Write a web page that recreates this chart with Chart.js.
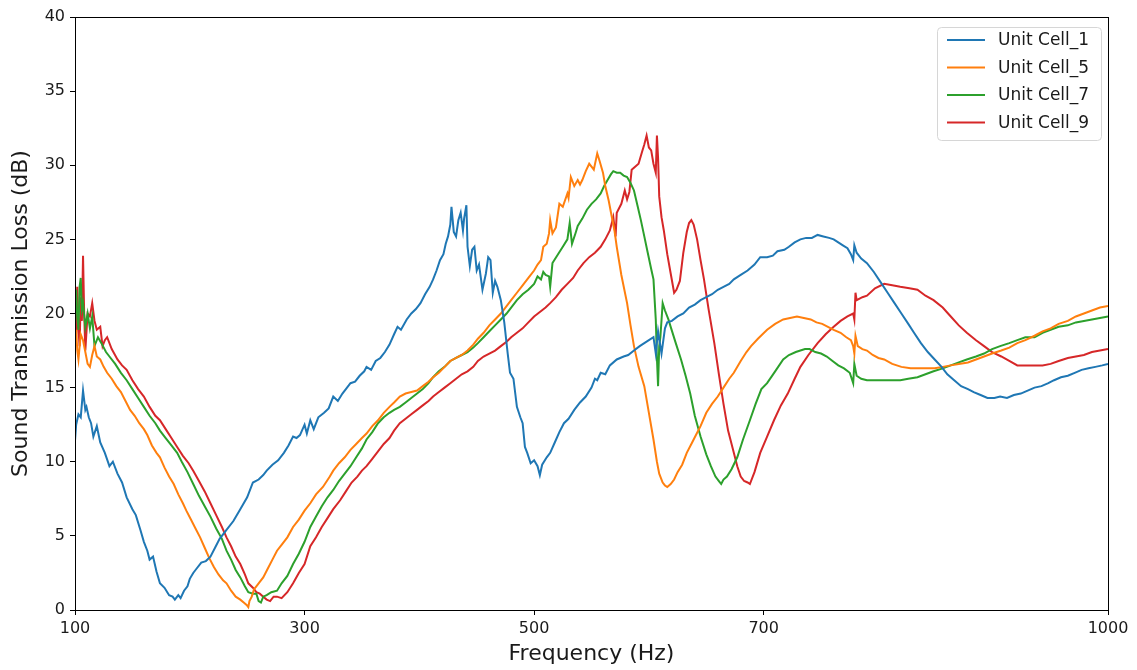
<!DOCTYPE html>
<html>
<head>
<meta charset="utf-8">
<title>Sound Transmission Loss</title>
<script src="https://cdn.jsdelivr.net/npm/chart.js@4.4.1/dist/chart.umd.min.js"></script>
<style>
  html, body { margin: 0; padding: 0; background: #fff; }
  #wrap { width: 1137px; height: 670px; }
</style>
</head>
<body>
<div id="wrap"><canvas id="stlChart" width="1137" height="670"></canvas></div>
<script>
// --- Data ---
const X_TICKS = [100, 300, 500, 700, 1000];
const SERIES_LABELS = ["Unit Cell_1", "Unit Cell_5", "Unit Cell_7", "Unit Cell_9"];
const SERIES_COLORS = ["#1f77b4", "#ff7f0e", "#2ca02c", "#d62728"];

const cell1Freq = [
  100, 101, 103, 105, 107, 109, 110, 112, 114, 116, 119, 122, 126, 130, 133, 137, 141, 145, 150, 153,
  157, 160, 163, 165, 168, 171, 174, 178, 182, 185, 187, 190, 192, 195, 198, 200, 203, 206, 210, 214,
  218, 222, 226, 232, 238, 244, 250, 255, 260, 264, 267, 272, 277, 282, 286, 290, 293, 296, 300, 302,
  305, 308, 312, 317, 321, 325, 329, 333, 337, 340, 344, 348, 352, 354, 358, 362, 366, 370, 374, 378,
  381, 384, 389, 393, 397, 401, 405, 409, 412, 415, 418, 421, 423, 425, 427, 428, 430, 432, 434, 436,
  438, 439, 441, 442, 444, 446, 448, 450, 452, 455, 458, 460, 462, 464, 466, 468, 471, 474, 477, 479,
  482, 485, 488, 490, 492, 494, 497, 500, 503, 505, 507, 511, 514, 518, 522, 526, 530, 535, 540, 545,
  550, 553, 555, 558, 562, 566, 572, 578, 582, 587, 592, 598, 604, 606, 608, 611, 614, 616, 620, 625,
  630, 635, 640, 645, 650, 655, 660, 665, 670, 674, 680, 686, 692, 697, 703, 708, 712, 718, 722, 727,
  732, 737, 742, 747, 752, 757, 761, 765, 769, 773, 776, 778, 779, 781, 785, 790, 796, 802, 808, 814,
  820, 826, 831, 837, 843, 849, 855, 860, 866, 872, 878, 883, 889, 895, 901, 906, 912, 918, 924, 930,
  936, 942, 948, 953, 959, 965, 971, 977, 983, 989, 995, 1000
];
const cell1Loss = [
  11.4, 12.5, 13.2, 13.0, 14.8, 13.5, 13.7, 13.0, 12.6, 11.7, 12.4, 11.3, 10.6, 9.7, 10.0, 9.2, 8.6, 7.6, 6.8, 6.4,
  5.4, 4.6, 4.0, 3.4, 3.6, 2.6, 1.8, 1.5, 1.0, 0.9, 0.7, 1.0, 0.8, 1.3, 1.6, 2.1, 2.5, 2.8, 3.2, 3.3,
  3.6, 4.2, 4.8, 5.4, 6.0, 6.8, 7.6, 8.6, 8.8, 9.1, 9.4, 9.8, 10.1, 10.6, 11.1, 11.7, 11.6, 11.8, 12.5, 11.9,
  12.8, 12.2, 13.0, 13.3, 13.6, 14.4, 14.1, 14.6, 15.0, 15.3, 15.4, 15.8, 16.1, 16.4, 16.2, 16.8, 17.0, 17.4, 17.9, 18.6,
  19.1, 18.9, 19.6, 20.0, 20.3, 20.7, 21.3, 21.8, 22.3, 22.9, 23.6, 24.0, 24.7, 25.2, 26.0, 27.2, 25.5, 25.2, 26.3, 26.8,
  25.6, 26.4, 27.3, 24.5, 23.2, 24.3, 24.5, 22.9, 23.3, 21.6, 22.7, 23.8, 23.6, 21.4, 22.2, 21.8, 20.9, 19.4, 17.3, 16.0,
  15.6, 13.7, 13.0, 12.6, 11.0, 10.6, 9.9, 10.1, 9.7, 9.1, 9.8, 10.3, 10.6, 11.3, 12.0, 12.6, 12.9, 13.5, 14.0, 14.4,
  15.0, 15.6, 15.5, 16.0, 15.9, 16.5, 16.9, 17.1, 17.2, 17.5, 17.8, 18.1, 18.4, 17.3, 18.8, 17.3, 19.0, 19.4, 19.5, 19.8,
  20.0, 20.4, 20.6, 20.9, 21.1, 21.3, 21.6, 21.8, 22.0, 22.3, 22.6, 22.9, 23.3, 23.8, 23.8, 23.9, 24.2, 24.3, 24.5, 24.8,
  25.0, 25.1, 25.1, 25.3, 25.2, 25.1, 25.0, 24.8, 24.6, 24.4, 24.0, 23.6, 24.6, 24.1, 23.7, 23.4, 22.8, 22.1, 21.4, 20.7,
  20.0, 19.3, 18.7, 18.0, 17.4, 16.9, 16.4, 15.9, 15.5, 15.1, 14.9, 14.7, 14.5, 14.3, 14.3, 14.4, 14.3, 14.5, 14.6, 14.8,
  15.0, 15.1, 15.3, 15.5, 15.7, 15.8, 16.0, 16.2, 16.3, 16.4, 16.5, 16.6
];

const cell5Freq = [
  100, 101, 102, 103, 105, 107, 109, 111, 113, 115, 117, 119, 122, 125, 128, 132, 136, 140, 144, 148,
  152, 156, 160, 163, 167, 171, 174, 178, 182, 186, 190, 194, 197, 201, 205, 209, 213, 217, 221, 225,
  229, 232, 236, 240, 244, 247, 250, 251, 252, 254, 256, 258, 261, 264, 268, 272, 276, 280, 285, 290,
  295, 300, 305, 310, 316, 322, 325, 330, 335, 340, 345, 350, 354, 359, 364, 369, 374, 378, 383, 388,
  393, 398, 403, 408, 412, 417, 422, 427, 432, 437, 442, 447, 451, 456, 461, 466, 471, 476, 480, 485,
  490, 495, 500, 503, 506, 508, 511, 513, 514, 516, 519, 522, 525, 529, 530, 532, 535, 538, 540, 542,
  545, 548, 550, 552, 555, 557, 560, 562, 565, 567, 570, 572, 576, 581, 584, 587, 591, 596, 600, 604,
  607, 609, 612, 614, 616, 619, 622, 625, 629, 633, 637, 641, 645, 650, 655, 660, 665, 670, 674, 680,
  685, 689, 695, 699, 703, 710, 717, 723, 729, 735, 741, 746, 751, 756, 761, 767, 772, 776, 778, 779,
  780, 782, 786, 790, 795, 800, 805, 812, 820, 828, 836, 844, 849, 856, 863, 870, 878, 885, 892, 899,
  907, 914, 921, 928, 936, 943, 950, 957, 965, 972, 979, 986, 993, 1000
];
const cell5Loss = [
  18.2, 18.9, 17.5, 16.9, 18.6, 18.2, 17.4, 16.6, 16.4, 17.2, 17.8, 17.1, 16.9, 16.4, 16.0, 15.6, 15.1, 14.7, 14.1, 13.5,
  13.1, 12.6, 12.2, 11.8, 11.1, 10.6, 10.3, 9.6, 9.0, 8.5, 7.8, 7.2, 6.7, 6.1, 5.5, 4.9, 4.2, 3.5, 2.9, 2.4,
  2.0, 1.8, 1.3, 0.9, 0.7, 0.5, 0.3, 0.2, 0.6, 0.9, 1.4, 1.6, 1.9, 2.2, 2.8, 3.4, 4.0, 4.4, 4.9, 5.6,
  6.1, 6.7, 7.2, 7.8, 8.3, 9.0, 9.4, 9.9, 10.3, 10.8, 11.2, 11.6, 11.9, 12.4, 12.8, 13.3, 13.7, 14.0, 14.4, 14.6,
  14.7, 14.8, 15.1, 15.4, 15.7, 16.0, 16.4, 16.8, 17.0, 17.2, 17.5, 17.9, 18.3, 18.7, 19.2, 19.6, 20.0, 20.5, 20.9, 21.4,
  21.9, 22.4, 22.9, 23.3, 23.6, 24.5, 24.7, 25.4, 26.3, 25.4, 25.8, 27.4, 27.2, 28.1, 27.8, 29.2, 28.6, 29.0, 28.7, 29.0,
  29.6, 30.1, 29.9, 29.7, 30.8, 30.3, 29.5, 28.6, 27.6, 26.8, 25.6, 24.5, 22.6, 20.7, 19.2, 17.8, 16.4, 15.1, 13.3, 11.5,
  10.0, 9.2, 8.6, 8.4, 8.3, 8.5, 8.8, 9.3, 9.8, 10.6, 11.2, 11.8, 12.4, 13.3, 13.9, 14.4, 15.0, 15.6, 16.0, 16.8,
  17.4, 17.8, 18.3, 18.6, 18.9, 19.3, 19.6, 19.7, 19.8, 19.7, 19.6, 19.4, 19.3, 19.1, 18.9, 18.7, 18.4, 18.2, 17.8, 17.3,
  18.5, 17.8, 17.6, 17.5, 17.2, 17.0, 16.9, 16.6, 16.4, 16.3, 16.3, 16.3, 16.3, 16.4, 16.5, 16.6, 16.7, 16.9, 17.1, 17.3,
  17.5, 17.7, 18.0, 18.2, 18.5, 18.8, 19.0, 19.3, 19.5, 19.8, 20.0, 20.2, 20.4, 20.5
];

const cell7Freq = [
  100, 101, 102, 103, 104, 105, 106, 107, 109, 111, 113, 115, 117, 120, 123, 127, 130, 135, 140, 145,
  150, 155, 160, 165, 170, 174, 179, 184, 189, 193, 198, 203, 208, 213, 218, 223, 228, 232, 236, 240,
  244, 248, 251, 255, 258, 260, 262, 264, 267, 271, 276, 280, 285, 290, 295, 300, 305, 310, 315, 320,
  325, 330, 335, 340, 345, 350, 354, 359, 364, 369, 374, 378, 383, 388, 393, 398, 403, 408, 412, 417,
  422, 427, 432, 437, 442, 447, 451, 456, 461, 466, 471, 476, 480, 485, 490, 495, 500, 503, 506, 508,
  510, 513, 514, 516, 520, 525, 529, 531, 533, 536, 538, 542, 546, 550, 554, 558, 561, 564, 567, 569,
  572, 575, 578, 581, 584, 587, 590, 593, 596, 599, 602, 604, 606, 607, 608, 609, 610, 612, 614, 617,
  619, 623, 628, 632, 636, 640, 645, 650, 654, 658, 661, 663, 665, 668, 672, 677, 682, 688, 693, 698,
  703, 710, 717, 722, 728, 732, 736, 740, 745, 750, 755, 760, 765, 770, 775, 778, 779, 781, 785, 790,
  797, 805, 812, 819, 826, 834, 841, 848, 856, 863, 870, 877, 885, 892, 899, 906, 914, 921, 928, 936,
  943, 950, 957, 965, 972, 979, 986, 993, 1000
];
const cell7Loss = [
  20.0, 21.6, 19.7, 18.9, 21.8, 22.4, 20.3, 20.7, 19.1, 20.0, 19.0, 19.8, 17.8, 18.4, 18.0, 17.4, 17.1, 16.6, 16.0, 15.5,
  14.9, 14.3, 13.7, 13.1, 12.6, 12.1, 11.6, 11.1, 10.6, 10.0, 9.3, 8.5, 7.7, 7.0, 6.3, 5.5, 4.8, 4.0, 3.4, 2.7,
  2.2, 1.6, 1.2, 1.1, 1.1, 0.6, 0.5, 0.9, 1.0, 1.2, 1.3, 1.8, 2.3, 3.1, 3.8, 4.6, 5.6, 6.3, 7.0, 7.6,
  8.1, 8.7, 9.2, 9.7, 10.3, 10.9, 11.5, 12.0, 12.6, 13.0, 13.3, 13.5, 13.7, 14.0, 14.3, 14.6, 14.9, 15.3, 15.7, 16.1,
  16.4, 16.8, 17.0, 17.2, 17.4, 17.7, 18.0, 18.4, 18.8, 19.2, 19.6, 20.0, 20.4, 20.9, 21.3, 21.6, 22.0, 22.5, 22.3, 22.8,
  22.6, 22.5, 21.8, 23.4, 23.9, 24.5, 25.0, 26.1, 24.7, 25.4, 25.9, 26.4, 27.0, 27.4, 27.7, 28.1, 28.6, 29.0, 29.4, 29.6,
  29.5, 29.5, 29.3, 29.2, 28.8, 28.3, 27.3, 26.3, 25.2, 24.1, 23.0, 22.3, 19.6, 17.0, 15.1, 17.8, 18.4, 20.7, 20.2, 19.6,
  19.1, 18.1, 16.9, 15.8, 14.6, 13.1, 11.7, 10.5, 9.7, 9.0, 8.7, 8.5, 8.8, 9.0, 9.5, 10.3, 11.5, 12.8, 13.9, 14.9,
  15.3, 16.1, 16.9, 17.2, 17.4, 17.5, 17.6, 17.6, 17.4, 17.3, 17.1, 16.8, 16.5, 16.3, 16.0, 15.3, 16.6, 15.8, 15.6, 15.5,
  15.5, 15.5, 15.5, 15.5, 15.6, 15.7, 15.9, 16.1, 16.3, 16.5, 16.7, 16.9, 17.1, 17.3, 17.6, 17.8, 18.0, 18.2, 18.4, 18.4,
  18.7, 18.9, 19.1, 19.2, 19.4, 19.5, 19.6, 19.7, 19.8
];

const cell9Freq = [
  100, 101, 102, 103, 104, 105, 106, 107, 108, 109, 111, 113, 115, 117, 119, 122, 124, 126, 128, 132,
  137, 141, 145, 150, 155, 160, 165, 170, 174, 179, 184, 189, 194, 199, 203, 208, 213, 218, 223, 228,
  232, 236, 240, 244, 248, 251, 255, 258, 261, 264, 267, 270, 273, 276, 280, 285, 290, 295, 300, 305,
  310, 315, 320, 325, 331, 336, 341, 346, 350, 354, 359, 364, 369, 374, 378, 383, 388, 393, 398, 403,
  408, 412, 417, 422, 427, 432, 437, 442, 447, 451, 456, 461, 466, 471, 476, 480, 485, 490, 495, 500,
  505, 510, 514, 519, 524, 529, 534, 538, 543, 548, 553, 558, 562, 566, 569, 571, 572, 576, 579, 581,
  583, 585, 588, 591, 594, 596, 598, 600, 602, 604, 606, 607, 608, 609, 611, 613, 616, 619, 622, 624,
  627, 630, 633, 635, 637, 639, 642, 645, 648, 652, 657, 661, 665, 669, 674, 677, 680, 683, 686, 688,
  692, 697, 703, 709, 715, 721, 727, 732, 739, 747, 754, 761, 767, 773, 778, 779, 780, 781, 786, 790,
  797, 805, 812, 819, 827, 834, 841, 848, 856, 863, 870, 877, 885, 892, 899, 907, 914, 921, 928, 936,
  943, 950, 957, 965, 972, 979, 986, 993, 1000
];
const cell9Loss = [
  22.0, 18.2, 21.8, 19.0, 17.8, 21.1, 19.5, 23.9, 20.0, 17.5, 20.0, 19.8, 20.7, 19.5, 18.9, 19.1, 17.8, 18.2, 18.4, 17.6,
  16.9, 16.5, 16.2, 15.5, 14.9, 14.4, 13.7, 13.1, 12.8, 12.2, 11.6, 11.0, 10.4, 9.9, 9.4, 8.7, 8.0, 7.2, 6.4, 5.6,
  4.9, 4.3, 3.6, 3.1, 2.4, 1.8, 1.5, 1.2, 1.1, 0.9, 0.7, 0.6, 0.9, 0.9, 0.8, 1.2, 1.8, 2.5, 3.1, 4.3,
  4.9, 5.6, 6.2, 6.8, 7.4, 8.0, 8.6, 9.0, 9.4, 9.7, 10.2, 10.7, 11.2, 11.6, 12.1, 12.6, 12.9, 13.2, 13.5, 13.8,
  14.1, 14.4, 14.7, 15.0, 15.3, 15.6, 15.9, 16.1, 16.4, 16.8, 17.1, 17.3, 17.5, 17.8, 18.1, 18.4, 18.7, 19.0, 19.4, 19.8,
  20.1, 20.4, 20.7, 21.1, 21.6, 22.0, 22.4, 22.9, 23.4, 23.8, 24.1, 24.5, 25.0, 25.6, 26.5, 25.2, 26.8, 27.4, 28.3, 27.7,
  28.2, 29.7, 29.9, 30.1, 30.9, 31.4, 32.0, 31.2, 31.0, 30.1, 29.5, 32.0, 30.5, 27.9, 26.5, 25.6, 24.0, 22.7, 21.4, 21.6,
  22.2, 24.1, 25.5, 26.1, 26.3, 26.0, 25.0, 23.6, 22.3, 20.3, 18.0, 15.9, 13.9, 12.1, 10.6, 9.7, 9.0, 8.7, 8.6, 8.5,
  9.3, 10.6, 11.7, 12.8, 13.8, 14.6, 15.6, 16.4, 17.2, 18.0, 18.6, 19.1, 19.5, 19.8, 20.0, 19.6, 21.4, 20.9, 21.1, 21.2,
  21.7, 22.0, 21.9, 21.8, 21.7, 21.6, 21.2, 20.9, 20.4, 19.8, 19.2, 18.7, 18.2, 17.8, 17.4, 17.1, 16.8, 16.5, 16.5, 16.5,
  16.5, 16.6, 16.8, 17.0, 17.1, 17.2, 17.4, 17.5, 17.6
];

const SERIES_FREQ = [cell1Freq, cell5Freq, cell7Freq, cell9Freq];
const SERIES_LOSS = [cell1Loss, cell5Loss, cell7Loss, cell9Loss];

const FONT = "'DejaVu Sans', sans-serif";

// --- Frame (all four spines) and legend drawn on top, matplotlib style ---
const framePlugin = {
  id: "frame",
  afterDraw(chart) {
    const { ctx, chartArea: a } = chart;
    ctx.save();
    ctx.strokeStyle = "#000";
    ctx.lineWidth = 1;
    ctx.strokeRect(Math.round(a.left) + 0.5, Math.round(a.top) + 0.5,
      Math.round(a.right - a.left), Math.round(a.bottom - a.top));
    ctx.restore();
  },
};

const legendPlugin = {
  id: "insideLegend",
  afterDraw(chart) {
    const { ctx } = chart;
    const boxX = 937, boxY = 27, boxW = 164, boxH = 113, rowH = 27.5;
    ctx.save();
    ctx.beginPath();
    ctx.roundRect(boxX + 0.5, boxY + 0.5, boxW, boxH, 4);
    ctx.fillStyle = "rgba(255,255,255,0.8)";
    ctx.fill();
    ctx.strokeStyle = "#d6d6d6";
    ctx.lineWidth = 1;
    ctx.stroke();
    ctx.font = "17px " + FONT;
    ctx.textBaseline = "middle";
    chart.data.datasets.forEach((ds, i) => {
      const y = boxY + 13 + i * rowH;
      ctx.strokeStyle = ds.borderColor;
      ctx.lineWidth = 2;
      ctx.beginPath();
      ctx.moveTo(947, y);
      ctx.lineTo(985, y);
      ctx.stroke();
      ctx.fillStyle = "#1a1a1a";
      ctx.fillText(ds.label, 998, y + 1);
    });
    ctx.restore();
  },
};

function buildDatasets() {
  return SERIES_LABELS.map((label, i) => ({
    label,
    data: SERIES_FREQ[i].map((f, j) => ({ x: f, y: SERIES_LOSS[i][j] })),
    borderColor: SERIES_COLORS[i],
    backgroundColor: SERIES_COLORS[i],
    borderWidth: 2,
    pointRadius: 0,
    tension: 0,
    fill: false,
  }));
}

const ctx = document.getElementById("stlChart").getContext("2d");
new Chart(ctx, {
  type: "line",
  data: { datasets: buildDatasets() },
  options: {
    responsive: false,
    animation: false,
    layout: { padding: { top: 17, right: 29, left: 0, bottom: 0 } },
    plugins: {
      legend: { display: false },
      tooltip: { enabled: false },
    },
    scales: {
      x: {
        type: "linear",
        min: 100,
        max: 1000,
        afterBuildTicks: (scale) => {
          scale.ticks = X_TICKS.map((v) => ({ value: v }));
        },
        afterFit: (scale) => {
          scale.height = 60;
        },
        grid: { drawOnChartArea: false, drawTicks: true, tickLength: 5, color: "#000" },
        border: { display: true, color: "#000" },
        ticks: {
          font: { family: FONT, size: 16 },
          color: "#1a1a1a",
          padding: 4,
          maxRotation: 0,
          autoSkip: false,
          callback: (v) => String(v),
        },
        title: {
          display: true,
          text: "Frequency (Hz)",
          font: { family: FONT, size: 22 },
          color: "#1a1a1a",
          padding: { top: 0, bottom: 3 },
        },
      },
      y: {
        min: 0,
        max: 40,
        afterFit: (scale) => {
          scale.width = 75;
        },
        grid: { drawOnChartArea: false, drawTicks: true, tickLength: 5, color: "#000" },
        border: { display: true, color: "#000" },
        ticks: {
          stepSize: 5,
          font: { family: FONT, size: 16 },
          color: "#1a1a1a",
          padding: 5,
          callback: (v) => String(v),
        },
        title: {
          display: true,
          text: "Sound Transmission Loss (dB)",
          font: { family: FONT, size: 22 },
          color: "#1a1a1a",
          padding: { top: 8, bottom: 0 },
        },
      },
    },
  },
  plugins: [framePlugin, legendPlugin],
});
</script>
</body>
</html>
